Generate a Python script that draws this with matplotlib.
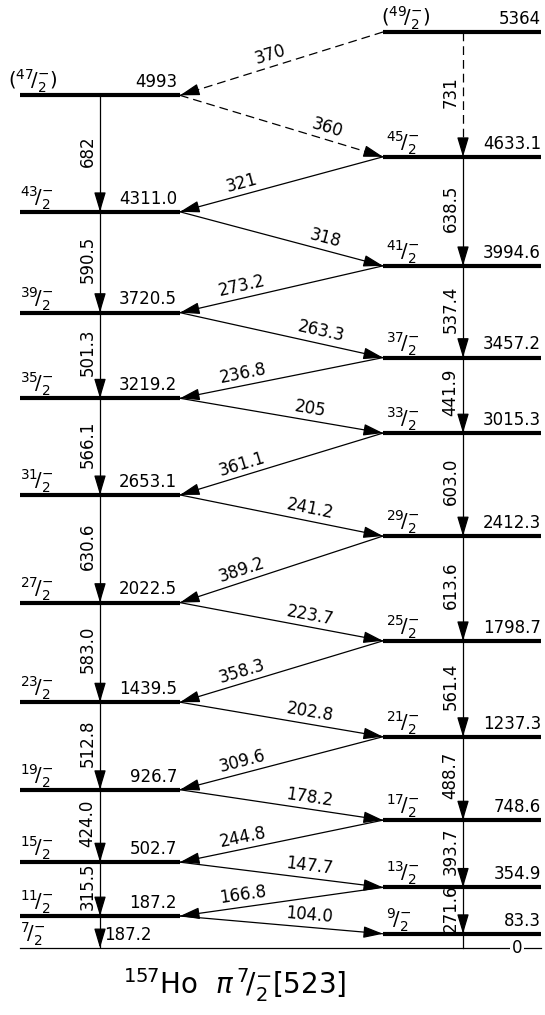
import math
import matplotlib
matplotlib.use("Agg")
import matplotlib.pyplot as plt

plt.rcParams['font.family'] = ['DejaVu Sans']
plt.rcParams['mathtext.fontset'] = 'dejavusans'

# ---------------- data ----------------
left_energies = [4993, 4311.0, 3720.5, 3219.2, 2653.1, 2022.5, 1439.5, 926.7, 502.7, 187.2, 0]
left_energy_labels = ['4993', '4311.0', '3720.5', '3219.2', '2653.1', '2022.5', '1439.5',
                      '926.7', '502.7', '187.2', '0']
left_spins = ['47', '43', '39', '35', '31', '27', '23', '19', '15', '11', '7']

right_energies = [5364, 4633.1, 3994.6, 3457.2, 3015.3, 2412.3, 1798.7, 1237.3, 748.6, 354.9, 83.3]
right_energy_labels = ['5364', '4633.1', '3994.6', '3457.2', '3015.3', '2412.3', '1798.7',
                       '1237.3', '748.6', '354.9', '83.3']
right_spins = ['49', '45', '41', '37', '33', '29', '25', '21', '17', '13', '9']

left_gammas = ['682', '590.5', '501.3', '566.1', '630.6', '583.0', '512.8', '424.0', '315.5', '187.2']
right_gammas = ['731', '638.5', '537.4', '441.9', '603.0', '613.6', '561.4', '488.7', '393.7', '271.6']
cross_gammas = ['370', '360', '321', '318', '273.2', '263.3', '236.8', '205', '361.1', '241.2',
                '389.2', '223.7', '358.3', '202.8', '309.6', '178.2', '244.8', '147.7', '166.8', '104.0']
tentative_spins = ['47', '49']
dashed_gammas = ['370', '360', '731']

# ---------------- layout ----------------
W, H = 545, 1015
fig = plt.figure(figsize=(W / 100, H / 100), dpi=100)
ax = fig.add_axes([0, 0, 1, 1])
scale = 916 / 5364.0
ax.set_xlim(0, W)
ax.set_ylim(-(H - 948) / scale, 5364 + 32 / scale)
ax.axis('off')

LX0, LX1, LXV = 20, 180, 100
RX0, RX1, RXV = 383, 541, 463
FS = 12
SFS = 14
lw_level = 3.0
lw_tr = 0.9
label_frac = {'370': 0.46, '360': 0.71, '318': 0.70, '263.3': 0.68}


def ppx(x, y):
    return ax.transData.transform((x, y))


def spin_text(num):
    s = r'$^{%s}\!/_{2}^{-}$' % num
    if num in tentative_spins:
        s = r'$(^{%s}\!/_{2}^{-})$' % num
    return s


def arrow(x0, y0, x1, y1, dashed=False):
    ls = (0, (7, 4)) if dashed else '-'
    ax.plot([x0, x1], [y0, y1], color='black', lw=lw_tr, ls=ls, solid_capstyle='butt')
    p0 = ppx(x0, y0)
    p1 = ppx(x1, y1)
    d = math.hypot(p1[0] - p0[0], p1[1] - p0[1])
    t = 18.0 / d
    sx, sy = ax.transData.inverted().transform((p1[0] - (p1[0] - p0[0]) * t,
                                                 p1[1] - (p1[1] - p0[1]) * t))
    ax.annotate('', xy=(x1, y1), xytext=(sx, sy),
                arrowprops=dict(arrowstyle='-|>,head_length=1.0,head_width=0.3',
                                mutation_scale=12, color='black', lw=lw_tr,
                                shrinkA=0, shrinkB=0))


# levels
for i, e in enumerate(left_energies):
    if e == 0:
        ax.plot([LX0, RX1], [e, e], color='black', lw=0.9)
        ax.text(517, e, '0', ha='center', va='center', fontsize=FS,
                bbox=dict(facecolor='white', edgecolor='none', pad=1.5))
    else:
        ax.plot([LX0, LX1], [e, e], color='black', lw=lw_level, solid_capstyle='butt')
        ax.annotate(left_energy_labels[i], (LX1 - 3, e), xytext=(0, 3), textcoords='offset points',
                    ha='right', va='bottom', fontsize=FS)
    sx = LX0 - 12 if left_spins[i] in tentative_spins else LX0
    ax.annotate(spin_text(left_spins[i]), (sx, e), xytext=(0, 0), textcoords='offset points',
                ha='left', va='bottom', fontsize=SFS)

for i, e in enumerate(right_energies):
    ax.plot([RX0, RX1], [e, e], color='black', lw=lw_level, solid_capstyle='butt')
    ax.annotate(right_energy_labels[i], (RX1, e), xytext=(0, 3), textcoords='offset points',
                ha='right', va='bottom', fontsize=FS)
    sx = RX0 - 2 if right_spins[i] in tentative_spins else RX0 + 3
    ax.annotate(spin_text(right_spins[i]), (sx, e), xytext=(0, 0), textcoords='offset points',
                ha='left', va='bottom', fontsize=SFS)

# vertical transitions
for i, g in enumerate(left_gammas):
    e0, e1 = left_energies[i], left_energies[i + 1]
    arrow(LXV, e0, LXV, e1, dashed=g in dashed_gammas)
    if e1 == 0:
        ax.annotate(g, (LXV, (e0 + e1) / 2), xytext=(3, -2), textcoords='offset points',
                    ha='left', va='center', fontsize=FS)
    else:
        ax.annotate(g, (LXV, (e0 + e1) / 2), xytext=(-2.5, 2), textcoords='offset points',
                    ha='right', va='center', rotation=90, fontsize=FS)

for i, g in enumerate(right_gammas):
    e0, e1 = right_energies[i], right_energies[i + 1]
    arrow(RXV, e0, RXV, e1, dashed=g in dashed_gammas)
    ax.annotate(g, (RXV, (e0 + e1) / 2), xytext=(-2.5, 2), textcoords='offset points',
                ha='right', va='center', rotation=90, fontsize=FS)
# line from 9/2 level to ground
ax.plot([RXV, RXV], [right_energies[-1], 0], color='black', lw=lw_tr)

# crossing transitions (zig-zag between the bands)
combined = []
for r, l in zip(right_energies, left_energies):
    combined.append(('R', r))
    combined.append(('L', l))
for i, g in enumerate(cross_gammas):
    s0, e0 = combined[i]
    s1, e1 = combined[i + 1]
    x0 = RX0 if s0 == 'R' else LX1
    x1 = RX0 if s1 == 'R' else LX1
    arrow(x0, e0, x1, e1, dashed=g in dashed_gammas)
    xa, ya, xb, yb = (LX1, e1, RX0, e0) if s0 == 'R' else (LX1, e0, RX0, e1)
    frac = label_frac.get(g, 0.32 if s0 == 'R' else 0.63)
    xl = xa + (xb - xa) * frac
    yl = ya + (yb - ya) * frac
    pa, pb = ppx(xa, ya), ppx(xb, yb)
    ang = math.degrees(math.atan2(pb[1] - pa[1], pb[0] - pa[0]))
    nx, ny = -math.sin(math.radians(ang)), math.cos(math.radians(ang))
    off = 8.5
    ax.annotate(g, (xl, yl), xytext=(nx * off, ny * off), textcoords='offset points',
                ha='center', va='center', rotation=ang, rotation_mode='anchor', fontsize=FS)

# title
fig.text(235 / W, 1 - 985 / H, r'$^{157}$Ho  $\pi\,^{7}\!/_{2}^{-}$[523]', ha='center', va='center',
         fontsize=20)

fig.savefig('out.png', dpi=100)
